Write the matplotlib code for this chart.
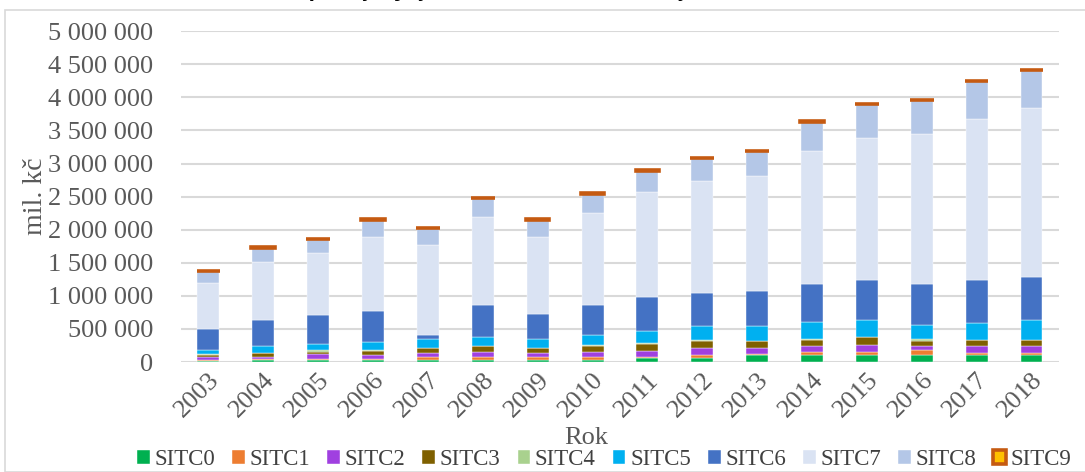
import matplotlib
matplotlib.use('Agg')
import matplotlib.pyplot as plt
from matplotlib.patches import Rectangle
from matplotlib.ticker import FuncFormatter, MultipleLocator
import numpy as np

plt.rcParams['font.family'] = ['Liberation Serif', 'DejaVu Serif']

# Export of CR by SITC groups, mil. Kc
years = ['2003', '2004', '2005', '2006', '2007', '2008', '2009', '2010',
         '2011', '2012', '2013', '2014', '2015', '2016', '2017', '2018']

sitc0 = [12000, 26000, 31000, 26000, 31000, 36000, 31000, 36000,
         68000, 68000, 104000, 109000, 109000, 107000, 107000, 107000]
sitc1 = [18000, 24000, 22000, 26000, 47000, 42000, 47000, 42000,
         7000, 41000, 11000, 37000, 37000, 72000, 36000, 36000]
sitc2 = [50000, 33000, 65000, 54000, 63000, 68000, 63000, 68000,
         97000, 99000, 98000, 94000, 104000, 61000, 97000, 97000]
sitc3 = [30000, 52000, 38000, 66000, 67000, 94000, 67000, 99000,
         104000, 104000, 99000, 99000, 125000, 71000, 92000, 92000]
sitc4 = [8000, 5000, 26000, 8000, 4000, 4000, 4000, 5000,
         4000, 25000, 4000, 4000, 4000, 30000, 4000, 4000]
sitc5 = [57000, 105000, 90000, 130000, 130000, 131000, 130000, 163000,
         195000, 201000, 229000, 262000, 256000, 219000, 261000, 292000]
sitc6 = [325000, 392000, 432000, 460000, 63000, 490000, 388000, 447000,
         510000, 505000, 535000, 573000, 604000, 614000, 642000, 656000]
sitc7 = [689000, 869000, 938000, 1123000, 1362000, 1321000, 1163000, 1395000,
         1587000, 1689000, 1730000, 2014000, 2145000, 2269000, 2436000, 2548000]
sitc8 = [181000, 224000, 213000, 259000, 253000, 288000, 259000, 285000,
         320000, 344000, 373000, 440000, 509000, 511000, 571000, 580000]
sitc9 = [8000] * 16

series = [sitc0, sitc1, sitc2, sitc3, sitc4, sitc5, sitc6, sitc7, sitc8, sitc9]
names = ['SITC0', 'SITC1', 'SITC2', 'SITC3', 'SITC4',
         'SITC5', 'SITC6', 'SITC7', 'SITC8', 'SITC9']
colors = ['#00B050', '#ED7D31', '#A040E0', '#7F6000', '#A9D18E',
          '#00B0F0', '#4472C4', '#DAE3F3', '#B4C7E7', '#FFC000']

fig = plt.figure(figsize=(10.85, 4.72), dpi=100)
ax = fig.add_axes([0.1668, 0.233, 0.8092, 0.701])

x = np.arange(len(years))
bottom = np.zeros(len(years))
handles = []
for vals, name, col in zip(series, names, colors):
    if name == 'SITC9':
        b = ax.bar(x, vals, 0.43, bottom=bottom, color=col,
                   edgecolor='#C55A11', linewidth=2.6, label=name, zorder=3)
    else:
        b = ax.bar(x, vals, 0.40, bottom=bottom, color=col,
                   edgecolor='white', linewidth=0.3, label=name, zorder=3)
    handles.append(b)
    bottom += np.array(vals)

ax.set_xlim(-0.5, len(years) - 0.5)
ax.set_ylim(0, 5000000)
ax.yaxis.set_major_locator(MultipleLocator(500000))
ax.yaxis.set_major_formatter(FuncFormatter(lambda v, p: f'{int(v):,}'.replace(',', ' ')))
ax.grid(axis='y', color='#D9D9D9', linewidth=1.5, zorder=0)
ax.set_axisbelow(True)
for s in ax.spines.values():
    s.set_visible(False)

ax.set_xticks(x)
ax.set_xticklabels(years, rotation=45, ha='right', va='top', rotation_mode='anchor')
ax.tick_params(axis='both', length=0, labelsize=19, labelcolor='#595959')
ax.tick_params(axis='x', pad=5)
ax.tick_params(axis='y', pad=20)

ax.set_ylabel('mil. kč', fontsize=20, color='#595959')
ax.yaxis.set_label_coords(-0.152, 0.5)
ax.set_xlabel('Rok', fontsize=19, color='#595959', labelpad=0)
ax.xaxis.set_label_coords(0.461, -0.195)

fig.legend(handles, names, loc='center', bbox_to_anchor=(0.557, 0.026), ncol=10,
           frameon=False, fontsize=16.5, handlelength=0.55, handleheight=0.55,
           handletextpad=0.2, columnspacing=0.75, labelcolor='#404040')

# light frame of the chart area
fig.patches.append(Rectangle((5 / 1085, 0), 1.0, 1 - 10 / 472, transform=fig.transFigure,
                             fill=False, edgecolor='#D9D9D9', linewidth=1.2, zorder=0))

# title sits mostly above the visible picture (cropped in the original)
fig.text(0.56, 1.0 + 4 / 472, 'Graf 1: Vývoj vývozu ČR dle nomenklatury SITC v letech 2003–2018',
         ha='center', va='baseline', fontsize=17, fontweight='bold', fontstyle='italic')

fig.savefig('out.png', dpi=100)
